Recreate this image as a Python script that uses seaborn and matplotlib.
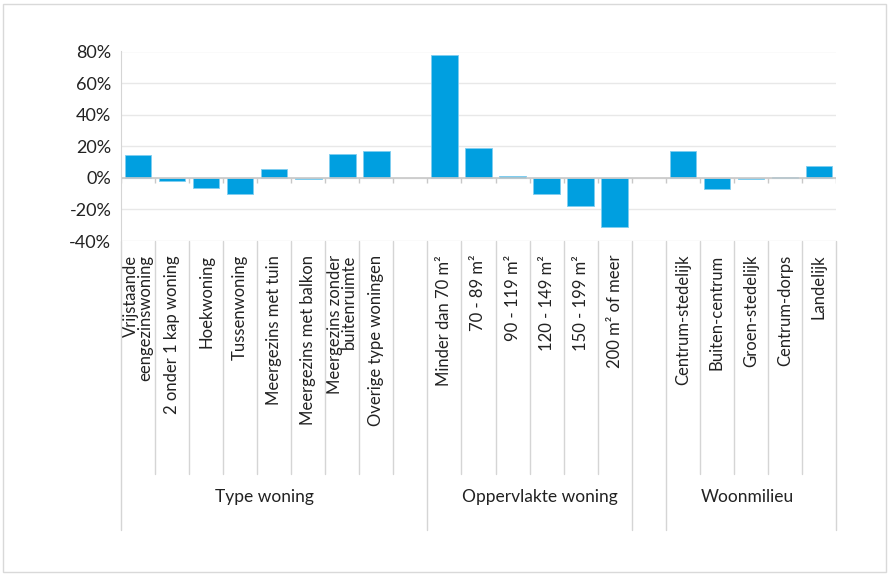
import numpy as np
import pandas as pd
import seaborn as sns
import matplotlib.pyplot as plt
from matplotlib.patches import Rectangle
from matplotlib.transforms import blended_transform_factory

# --- data ---
labels = [
    "Vrijstaande\neengezinswoning", "2 onder 1 kap woning", "Hoekwoning",
    "Tussenwoning", "Meergezins met tuin", "Meergezins met balkon",
    "Meergezins zonder\nbuitenruimte", "Overige type woningen", "",
    "Minder dan 70 m²", "70 - 89 m²", "90 - 119 m²", "120 - 149 m²",
    "150 - 199 m²", "200 m² of meer", " ",
    "Centrum-stedelijk", "Buiten-centrum", "Groen-stedelijk",
    "Centrum-dorps", "Landelijk",
]
values = [
    14.3, -2.3, -6.7, -10.5, 5.5, -1.0, 15.0, 16.8, np.nan,
    78.0, 18.7, 1.2, -10.5, -17.7, -31.0, np.nan,
    16.8, -6.9, -0.8, 0.5, 7.5,
]
groups = ["Type woning", "Oppervlakte woning", "Woonmilieu"]
group_label_x = [3.7, 11.8, 17.9]
group_edges = [-0.5, 8.5, 14.5, 15.5, 20.5]
y_ticks = [-40, -20, 0, 20, 40, 60, 80]

df = pd.DataFrame({"label": labels, "value": values})

sns.set_style("white")
plt.rcParams["font.family"] = ["Lato", "DejaVu Sans"]
text_color = "#222222"

fig = plt.figure(figsize=(8.89, 5.76), dpi=100)
ax = fig.add_axes([121 / 889, 1 - 241 / 576, 715 / 889, 189.5 / 576])

sns.barplot(data=df, x="label", y="value", order=labels, color="#009FE0",
            saturation=1, width=0.78, edgecolor="#7FCDEF", linewidth=0.6, ax=ax)

ax.set_ylim(-40, 80)
ax.set_yticks(y_ticks)
ax.set_yticklabels([f"{v}%" for v in y_ticks], fontsize=13, color=text_color)
ax.yaxis.grid(True, color="#E8E8E8", lw=1)
ax.set_axisbelow(True)
ax.axhline(0, color="#C8C8C8", lw=1.2, zorder=1)
ax.tick_params(axis="y", length=0, pad=7)
ax.set_xlabel("")
ax.set_ylabel("")

ax.set_xticks(range(len(labels)))
ax.set_xticklabels(labels, rotation=90, fontsize=12, color=text_color,
                   va="top", ha="center", multialignment="right", linespacing=0.85)
ax.tick_params(axis="x", length=0, pad=10)

for side in ["top", "right", "bottom"]:
    ax.spines[side].set_visible(False)
ax.spines["left"].set_color("#D5D5D5")

# small tick marks on the zero line
bounds = np.arange(-0.5, len(labels), 1.0)
ax.vlines(bounds, -3.2, 0, color="#C8C8C8", lw=1, zorder=1)

# category separators below the plot
trans = blended_transform_factory(ax.transData, ax.transAxes)
for b in bounds:
    bottom = -1.525 if b in group_edges else -1.23
    ax.plot([b, b], [0, bottom], color="#D5D5D5", lw=1, transform=trans, clip_on=False)

for name, gx in zip(groups, group_label_x):
    ax.text(gx, -1.35, name, transform=trans, ha="center", va="center",
            fontsize=12.5, color=text_color)

ax.set_xlim(-0.5, len(labels) - 0.5)
ax.set_ylim(-40, 80)

fig.patches.append(Rectangle((3 / 889, 4 / 576), 883 / 889, 568 / 576,
                             transform=fig.transFigure, fill=False,
                             edgecolor="#D9D9D9", lw=1))

fig.savefig("out.png", dpi=100)
